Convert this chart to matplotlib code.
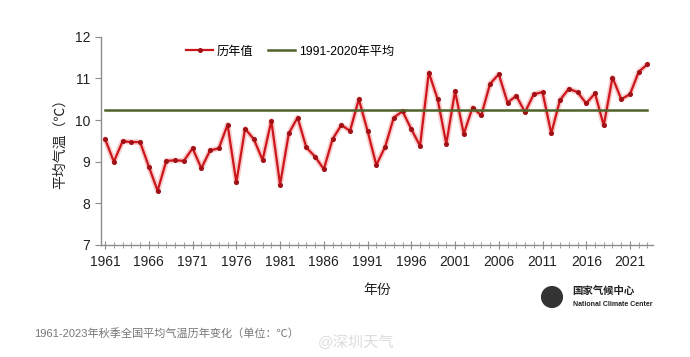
import numpy as np
import matplotlib.pyplot as plt
from matplotlib.patches import Ellipse
from matplotlib.ticker import MultipleLocator

plt.rcParams['font.family'] = ['Liberation Sans', 'Noto Sans CJK SC']

# 数据: 1961-2023 秋季全国平均气温
years = np.arange(1961, 2024)
temps = [9.54, 9.00, 9.49, 9.47, 9.47, 8.88, 8.30, 9.02, 9.03, 9.02,
         9.32, 8.84, 9.27, 9.32, 9.89, 8.50, 9.79, 9.54, 9.04, 9.98,
         8.45, 9.68, 10.06, 9.34, 9.12, 8.82, 9.54, 9.88, 9.74, 10.50,
         9.74, 8.92, 9.35, 10.06, 10.21, 9.78, 9.38, 11.14, 10.51, 9.43,
         10.69, 9.67, 10.30, 10.11, 10.87, 11.10, 10.42, 10.58, 10.19, 10.62,
         10.67, 9.68, 10.48, 10.75, 10.67, 10.40, 10.64, 9.87, 11.02, 10.50,
         10.62, 11.16, 11.34]
avg_1991_2020 = 10.23
xticks = np.arange(1961, 2024, 5)

fig = plt.figure(figsize=(6.9, 3.57), dpi=100)
ax = fig.add_axes([0.146, 0.314, 0.80, 0.583])

red = '#cc161b'
green = '#4f6228'

# glow under the red line
ax.plot(years, temps, color='#f08080', lw=4, alpha=0.4, solid_capstyle='round')
ax.plot(years, temps, color=red, lw=1.6, marker='o', ms=2.6,
        mfc='#a01015', mec='#a01015', label='历年值')
ax.plot([years[0], years[-1]], [avg_1991_2020, avg_1991_2020],
        color=green, lw=1.8, label='1991-2020年平均')

ax.set_xlim(1960.5, 2023.6)
ax.set_ylim(7, 12)
ax.set_xticks(xticks)
ax.xaxis.set_minor_locator(MultipleLocator(1))
ax.yaxis.set_major_locator(MultipleLocator(1))

for s in ['top', 'right']:
    ax.spines[s].set_visible(False)
for s in ['left', 'bottom']:
    ax.spines[s].set_color('#8c8c8c')
    ax.spines[s].set_linewidth(1.0)

ax.tick_params(axis='x', which='major', direction='inout', length=6,
               color='#8c8c8c', labelsize=10, pad=4, labelcolor='#222222')
ax.tick_params(axis='x', which='minor', direction='inout', length=4,
               color='#8c8c8c')
ax.tick_params(axis='y', which='major', direction='out', length=4,
               color='#8c8c8c', labelsize=10, labelcolor='#222222')

ax.set_xlabel('年份', fontsize=10, labelpad=10, color='#222222')
ax.set_ylabel('平均气温（℃）', fontsize=10, labelpad=6, color='#222222')

leg = ax.legend(loc='upper left', bbox_to_anchor=(0.135, 1.01), ncol=2,
                frameon=False, fontsize=8.8, handlelength=2.2,
                handletextpad=0.3, columnspacing=1.2)

# logo
fig.text(0.83, 0.185, '国家气候中心', fontsize=7.5, fontweight='bold',
         ha='left', va='center', color='#222222')
fig.text(0.83, 0.148, 'National Climate Center', fontsize=5, fontweight='bold',
         ha='left', va='center', color='#222222')
fig.patches.append(Ellipse((0.80, 0.168), 0.030, 0.058, transform=fig.transFigure,
                           color='#333333', figure=fig))

# caption and watermark
fig.text(0.05, 0.067, '1961-2023年秋季全国平均气温历年变化（单位：℃）',
         fontsize=8, color='#777777', ha='left', va='center')
fig.text(0.46, 0.04, '@深圳天气', fontsize=11, color='#dddddd',
         ha='left', va='center')

fig.savefig('out.png', dpi=100)
